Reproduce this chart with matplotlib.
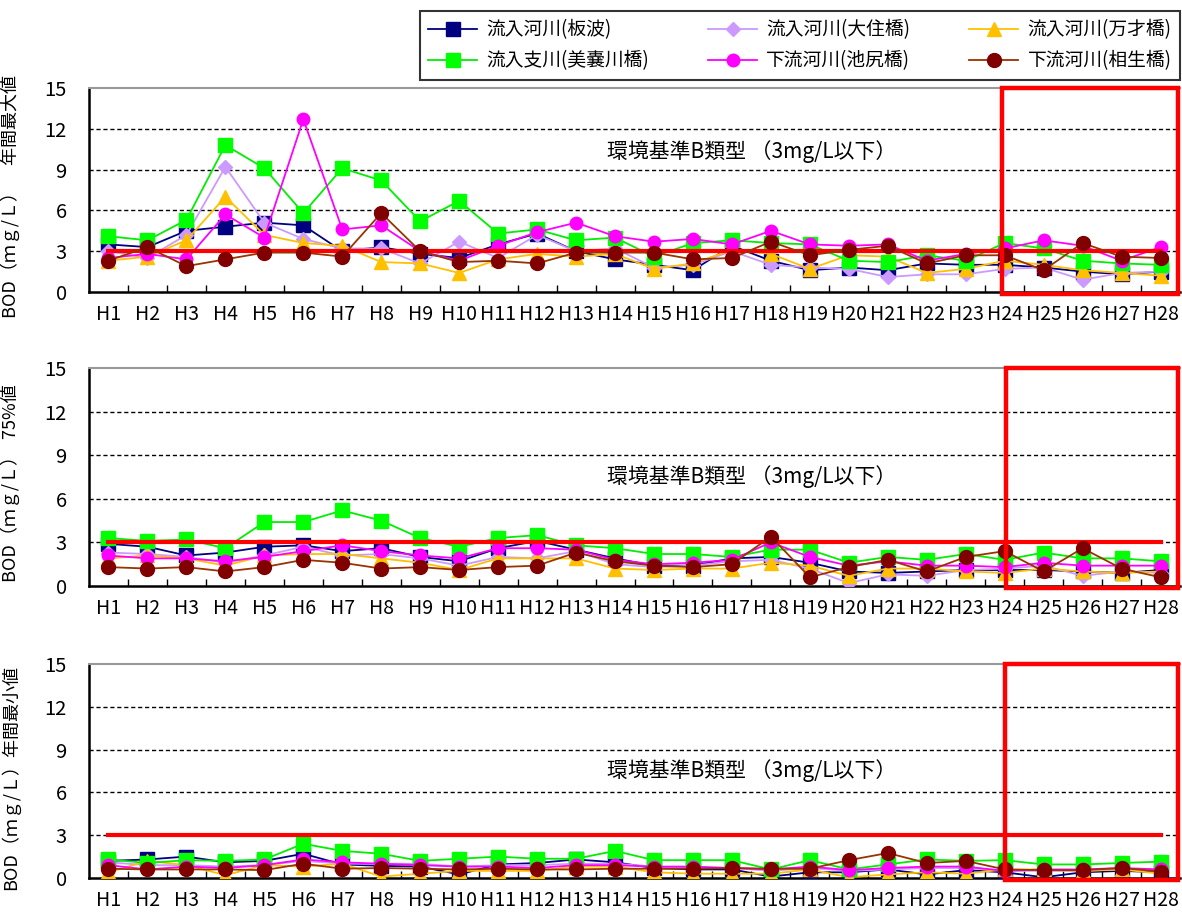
import matplotlib

matplotlib.use("Agg")
import matplotlib.pyplot as plt
from matplotlib.lines import Line2D
from matplotlib.patches import Rectangle

plt.rcParams["font.family"] = ["Liberation Sans Narrow", "Noto Sans CJK JP", "DejaVu Sans"]

years = [f"H{i}" for i in range(1, 29)]

series_names = [
    "流入河川(板波)",
    "流入河川(大住橋)",
    "流入河川(万才橋)",
    "流入支川(美嚢川橋)",
    "下流河川(池尻橋)",
    "下流河川(相生橋)",
]

# 年間最大値
max_itanami = [3.5, 3.3, 4.5, 4.8, 5.1, 4.9, 3.0, 3.3, 2.8, 2.5, 3.5, 4.3, 3.0, 2.4,
               2.0, 1.6, 3.4, 2.3, 1.6, 1.8, 1.6, 2.1, 2.0, 2.0, 1.8, 1.5, 1.3, 1.5]
max_osumi = [3.0, 2.5, 4.2, 9.2, 5.1, 3.9, 3.2, 3.2, 2.1, 3.7, 2.5, 4.2, 3.0, 3.2,
             1.8, 2.0, 3.0, 2.0, 1.8, 1.7, 1.1, 1.3, 1.3, 1.7, 1.8, 0.9, 1.4, 1.5]
max_bansai = [2.3, 2.6, 3.8, 7.0, 4.2, 3.6, 3.4, 2.2, 2.1, 1.4, 2.4, 2.8, 2.6, 2.8,
              1.7, 2.1, 3.1, 2.8, 1.7, 2.7, 2.6, 1.4, 1.7, 2.3, 2.0, 1.6, 1.4, 1.2]
max_minogawa = [4.1, 3.8, 5.3, 10.8, 9.1, 5.8, 9.1, 8.2, 5.2, 6.7, 4.3, 4.6, 3.8, 4.0,
                2.6, 3.6, 3.8, 3.6, 3.5, 2.3, 2.2, 2.7, 2.3, 3.6, 3.2, 2.3, 2.1, 2.0]
max_ikejiri = [2.5, 2.8, 2.4, 5.7, 4.0, 12.7, 4.6, 4.9, 3.0, 2.3, 3.4, 4.4, 5.1, 4.1,
               3.7, 3.9, 3.5, 4.5, 3.5, 3.4, 3.5, 2.3, 2.8, 3.2, 3.8, 3.4, 2.3, 3.3]
max_aioi = [2.3, 3.3, 1.9, 2.4, 2.9, 2.9, 2.6, 5.8, 3.0, 2.2, 2.3, 2.1, 2.9, 2.9,
            2.9, 2.4, 2.5, 3.7, 2.7, 3.1, 3.4, 2.1, 2.7, 2.7, 1.6, 3.6, 2.6, 2.5]

# 75%値
p75_itanami = [2.9, 2.7, 2.1, 2.3, 2.7, 2.8, 2.4, 2.6, 2.0, 1.7, 2.6, 3.1, 2.5, 1.9,
               1.4, 1.4, 1.9, 2.0, 1.6, 1.0, 0.9, 1.0, 1.1, 1.1, 1.1, 1.0, 0.9, 1.1]
p75_osumi = [2.3, 2.2, 2.0, 1.6, 2.1, 2.7, 2.1, 2.2, 1.9, 1.4, 2.0, 1.9, 2.4, 1.5,
             1.3, 1.4, 1.7, 1.8, 1.2, 0.2, 0.8, 0.7, 1.1, 1.2, 1.4, 0.7, 1.0, 0.9]
p75_bansai = [1.9, 2.1, 1.9, 1.4, 2.1, 2.2, 2.2, 1.9, 1.6, 1.1, 1.9, 1.9, 1.9, 1.2,
              1.1, 1.2, 1.2, 1.6, 1.4, 0.7, 1.2, 1.2, 1.0, 0.9, 1.2, 1.0, 0.9, 1.0]
p75_minogawa = [3.3, 3.1, 3.2, 2.6, 4.4, 4.4, 5.2, 4.5, 3.3, 2.7, 3.3, 3.5, 2.8, 2.6,
                2.2, 2.2, 2.0, 2.5, 2.5, 1.6, 2.0, 1.8, 2.2, 1.8, 2.3, 1.9, 1.9, 1.7]
p75_ikejiri = [2.1, 1.9, 1.9, 1.7, 2.0, 2.4, 2.8, 2.4, 2.1, 1.9, 2.6, 2.6, 2.5, 1.8,
               1.5, 1.6, 1.8, 3.0, 2.0, 1.4, 1.7, 1.4, 1.4, 1.3, 1.6, 1.4, 1.4, 1.4]
p75_aioi = [1.3, 1.2, 1.3, 1.0, 1.3, 1.8, 1.6, 1.2, 1.3, 1.1, 1.3, 1.4, 2.3, 1.7,
            1.4, 1.3, 1.5, 3.4, 0.6, 1.3, 1.8, 1.0, 2.0, 2.4, 1.0, 2.6, 1.2, 0.6]

# 年間最小値
min_itanami = [1.2, 1.3, 1.5, 1.1, 1.2, 1.7, 0.95, 0.85, 0.8, 0.25, 0.95, 1.05, 1.3, 1.1,
               0.7, 0.6, 0.6, 0.1, 0.4, 0.4, 0.6, 0.25, 0.55, 0.4, 0.05, 0.4, 0.5, 0.4]
min_osumi = [1.1, 0.9, 0.9, 0.8, 0.9, 1.2, 1.0, 1.0, 1.0, 0.8, 0.9, 0.9, 1.0, 1.0,
             0.8, 0.7, 0.7, 0.5, 0.7, 0.5, 0.6, 0.7, 0.7, 0.5, 0.5, 0.5, 0.6, 0.5]
min_bansai = [0.4, 1.2, 0.9, 0.2, 0.9, 0.8, 1.0, 0.1, 0.3, 0.5, 0.5, 0.5, 0.8, 0.8,
              0.4, 0.3, 0.3, 0.3, 0.6, 0.05, 0.25, 0.4, 0.3, 0.6, 0.6, 0.5, 0.6, 0.3]
min_minogawa = [1.3, 1.05, 1.25, 1.2, 1.3, 2.4, 1.9, 1.7, 1.2, 1.35, 1.5, 1.35, 1.35, 1.9,
                1.25, 1.25, 1.25, 0.6, 1.25, 0.6, 0.95, 1.3, 1.2, 1.25, 0.95, 0.95, 1.05, 1.15]
min_ikejiri = [0.9, 0.6, 0.8, 0.7, 0.9, 1.3, 1.1, 1.0, 0.9, 0.8, 0.8, 0.7, 0.9, 0.9,
               0.8, 0.8, 0.7, 0.6, 0.8, 0.55, 0.7, 0.8, 0.8, 0.5, 0.6, 0.6, 0.7, 0.6]
min_aioi = [0.65, 0.6, 0.6, 0.6, 0.55, 1.0, 0.65, 0.7, 0.65, 0.6, 0.65, 0.6, 0.6, 0.65,
            0.65, 0.65, 0.7, 0.65, 0.65, 1.25, 1.75, 1.05, 1.2, 0.6, 0.55, 0.55, 0.7, 0.45]

standard_value = 3.0

styles = [
    dict(color="#000080", marker="s", mfc="#000080", mec="#000080", ms=9.5),
    dict(color="#CC99FF", marker="D", mfc="#CC99FF", mec="#CC99FF", ms=7.5),
    dict(color="#FFC000", marker="^", mfc="#FFC000", mec="#FFC000", ms=10),
    dict(color="#00EE00", marker="s", mfc="#00FF00", mec="#00FF00", ms=9.5),
    dict(color="#FF00FF", marker="o", mfc="#FF00FF", mec="#FF00FF", ms=9),
    dict(color="#993300", marker="o", mfc="#800000", mec="#800000", ms=10),
]

panels = [
    ("BOD（ｍｇ/Ｌ）　年間最大値",
     [max_itanami, max_osumi, max_bansai, max_minogawa, max_ikejiri, max_aioi],
     (88, 292), 10.3, 22.94),
    ("BOD（ｍｇ/Ｌ）  75%値",
     [p75_itanami, p75_osumi, p75_bansai, p75_minogawa, p75_ikejiri, p75_aioi],
     (368, 586), 7.5, 23.04),
    ("BOD（ｍｇ/Ｌ）年間最小値",
     [min_itanami, min_osumi, min_bansai, min_minogawa, min_ikejiri, min_aioi],
     (664, 878), 7.5, 23.0),
]

W, H = 1182, 914
fig = plt.figure(figsize=(W / 100, H / 100), dpi=100)

x = list(range(len(years)))
ax_left, ax_right = 89, 1180

for ylabel, values, (top, bottom), text_y, box_x in panels:
    ax = fig.add_axes([ax_left / W, 1 - bottom / H, (ax_right - ax_left) / W, (bottom - top) / H])
    ax.set_xlim(-0.5, len(years) - 0.5)
    ax.set_ylim(0, 15)

    for y in (3, 6, 9, 12):
        ax.axhline(y, color="black", lw=1.0, ls=(0, (3, 2)), zorder=1)

    for series, style in zip(values[:5], styles[:5]):
        ax.plot(x, series, lw=1.3, zorder=3, **style)
    ax.plot([x[0], x[-1]], [standard_value, standard_value], color="#FF0000", lw=3, zorder=4)
    ax.plot(x, values[5], lw=1.3, zorder=5, **styles[5])

    ax.text(12.8, text_y, "環境基準B類型 （3mg/L以下）", fontsize=15,
            va="center", ha="left", zorder=6)

    ax.add_patch(Rectangle((box_x, -0.12), len(years) - 0.55 - box_x, 15.12,
                           fill=False, ec="#FF0000", lw=3.2, clip_on=False, zorder=7))

    ax.set_yticks([0, 3, 6, 9, 12, 15])
    ax.tick_params(axis="y", length=0, pad=16, labelsize=14.5)
    ax.set_xticks([i + 0.5 for i in x[:-1]], minor=True)
    ax.set_xticks(x)
    ax.set_xticklabels(years, fontsize=14)
    ax.tick_params(axis="x", which="major", length=0, pad=9)
    ax.tick_params(axis="x", which="minor", length=5, direction="in", width=1)

    ax.spines["left"].set_linewidth(1.8)
    ax.spines["bottom"].set_linewidth(1.8)
    ax.spines["top"].set_color("#999999")
    ax.spines["top"].set_linestyle((0, (2, 1)))
    ax.spines["top"].set_linewidth(1.5)
    ax.spines["right"].set_visible(False)

    ax.set_ylabel(ylabel, fontsize=13)
    ax.yaxis.set_label_coords(-0.063, 0.47)

# legend fills column by column, so reorder to get row-wise layout
order = [0, 3, 1, 4, 2, 5]
handles = [Line2D([], [], lw=1.3, **styles[i]) for i in order]
labels = [series_names[i] for i in order]
fig.legend(handles, labels, ncol=3, loc="lower left", mode="expand",
           bbox_to_anchor=(420 / W, 1 - 80 / H, (1180 - 420) / W, 68 / H),
           fontsize=13.5, frameon=True, fancybox=False, edgecolor="black",
           handlelength=2.6, handletextpad=0.5, borderaxespad=0, labelspacing=0.55,
           borderpad=0.45)
fig.legends[0].get_frame().set_linewidth(1.5)

fig.savefig("out.png", dpi=100)
